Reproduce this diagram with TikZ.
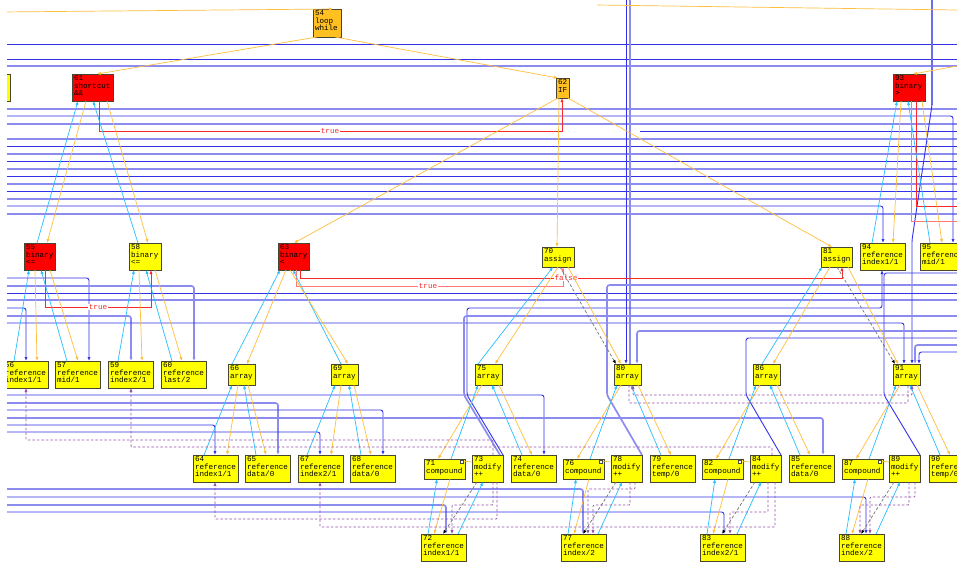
\documentclass[tikz,border=0pt]{standalone}
\usepackage{fontspec}
\newfontfamily\dotmono{Liberation Mono}
\usetikzlibrary{arrows.meta}
\definecolor{cyanE}{RGB}{40,190,255}
\definecolor{orngE}{RGB}{255,190,60}
\definecolor{blueD}{RGB}{50,50,235}
\definecolor{blueL}{RGB}{140,140,240}
\definecolor{redE}{RGB}{250,40,40}
\definecolor{redL}{RGB}{255,120,120}
\definecolor{purpE}{RGB}{150,80,170}
\definecolor{boxY}{RGB}{255,255,0}
\definecolor{boxR}{RGB}{255,0,0}
\definecolor{boxO}{RGB}{255,192,32}
\definecolor{bordC}{RGB}{70,70,50}
\tikzset{
 gbox/.style={draw=bordC, line width=0.8pt, inner sep=0pt, outer sep=0pt},
 lbl/.style={inner sep=0pt, align=left, font=\dotmono\fontsize{7.6}{7.5}\selectfont},
 tl/.style={inner sep=0.6pt, fill=white, text=redE, font=\dotmono\fontsize{7.6}{7.5}\selectfont},
 arrw/.style={-{Latex[length=4pt,width=3.2pt]}},
 eO/.style={draw=orngE, line width=0.7pt, arrw},
 eOn/.style={draw=orngE, line width=0.7pt},
 eC/.style={draw=cyanE, line width=0.7pt, arrw},
 eK/.style={draw=black!55, line width=0.7pt, dash pattern=on 3pt off 2pt, -{Latex[length=4pt,width=3.2pt,color=black]}},
 lnD/.style={draw=blueD, line width=0.9pt, rounded corners=2.5pt},
 lnL/.style={draw=blueL, line width=1.7pt, rounded corners=2.5pt},
 lnR/.style={draw=redE, line width=0.8pt},
 lnRL/.style={draw=redL, line width=0.8pt},
 lnP/.style={draw=purpE, line width=0.7pt, dash pattern=on 2.5pt off 2pt, rounded corners=1pt},
 sqr/.style={draw=black!70, line width=0.5pt, fill=white},
}
\newcommand\bx[7]{%
 \node[gbox,fill=#6,minimum width=#4pt,minimum height=#5pt,anchor=north west] (#1) at (#2,#3) {};
 \node[lbl,anchor=north west] (#1t) at ([xshift=1.8pt,yshift=-1.6pt]#1.north west) {#7};}
\newcommand\grp[5]{%
 \draw[eO] ([xshift=7]n#1.south west) -- ([xshift=14]n#2.north west);
 \draw[eC] ([xshift=27]n#2.north west) -- ([xshift=3]n#1.south west);
 \draw[eC] ([xshift=11]n#4.north west) -- ([xshift=17]n#1.south west);
 \draw[eO] ([xshift=24]n#1.south west) -- ([xshift=21]n#4.north west);
 \draw[eC] ([xshift=7]n#5.north west) -- ([xshift=13]n#2.south west);
 \draw[eO] ([xshift=26]n#2.south west) -- ([xshift=13]n#5.north west);
 \draw[eK] ([xshift=5]n#3.south west) -- ([xshift=22]n#5.north west);
 \draw[eC] ([xshift=37]n#5.north west) -- ([xshift=11]n#3.south west);
 \draw[eOn] ([xshift=-3,yshift=-2]n#2.north east) -- ([yshift=-7]n#3.north west);
 \draw[sqr] ([xshift=-5,yshift=-1]n#2.north east) rectangle ++(3.5,3.5);}
\begin{document}
\begin{tikzpicture}[x=1pt,y=-1pt]
\fill[white] (0,0) rectangle (957,568);
\useasboundingbox (0,0) rectangle (957,568);
% ---------- nodes ----------
\bx{nX}{0}{74}{10}{27}{boxY}{}
\bx{n54}{313}{9}{28}{28}{boxO}{54\\loop\\while}
\bx{n61}{72}{74}{41}{27}{boxR}{61\\shortcut\\\&\&}
\bx{n62}{556}{78}{13}{20}{boxO}{62\\IF}
\bx{n93}{893}{74}{32}{27}{boxR}{93\\binary\\>}
\bx{n55}{24}{243}{31}{27}{boxR}{55\\binary\\<=}
\bx{n58}{129}{243}{32}{27}{boxY}{58\\binary\\<=}
\bx{n63}{278}{243}{31}{27}{boxR}{63\\binary\\<}
\bx{n70}{542}{247}{32}{20}{boxY}{70\\assign}
\bx{n81}{821}{247}{31}{20}{boxY}{81\\assign}
\bx{n94}{860}{243}{45}{27}{boxY}{94\\reference\\index1/1}
\bx{n95}{920}{243}{45}{27}{boxY}{95\\reference\\mid/1}
\bx{n56}{3}{361}{45}{27}{boxY}{56\\reference\\index1/1}
\bx{n57}{55}{361}{45}{27}{boxY}{57\\reference\\mid/1}
\bx{n59}{108}{361}{45}{27}{boxY}{59\\reference\\index2/1}
\bx{n60}{161}{361}{45}{27}{boxY}{60\\reference\\last/2}
\bx{n66}{228}{364}{27}{21}{boxY}{66\\array}
\bx{n69}{331}{364}{27}{21}{boxY}{69\\array}
\bx{n75}{475}{364}{27}{21}{boxY}{75\\array}
\bx{n80}{614}{364}{27}{21}{boxY}{80\\array}
\bx{n86}{753}{364}{27}{21}{boxY}{86\\array}
\bx{n91}{893}{364}{27}{21}{boxY}{91\\array}
\bx{n64}{193}{455}{45}{27}{boxY}{64\\reference\\index1/1}
\bx{n65}{245}{455}{45}{27}{boxY}{65\\reference\\data/0}
\bx{n67}{298}{455}{45}{27}{boxY}{67\\reference\\index2/1}
\bx{n68}{350}{455}{45}{27}{boxY}{68\\reference\\data/0}
\bx{n71}{424}{459}{41}{20}{boxY}{71\\compound}
\bx{n73}{472}{455}{31}{27}{boxY}{73\\modify\\++}
\bx{n74}{511}{455}{45}{27}{boxY}{74\\reference\\data/0}
\bx{n76}{563}{459}{41}{20}{boxY}{76\\compound}
\bx{n78}{611}{455}{31}{27}{boxY}{78\\modify\\++}
\bx{n79}{650}{455}{45}{27}{boxY}{79\\reference\\temp/0}
\bx{n82}{702}{459}{41}{20}{boxY}{82\\compound}
\bx{n84}{750}{455}{31}{27}{boxY}{84\\modify\\++}
\bx{n85}{789}{455}{45}{27}{boxY}{85\\reference\\data/0}
\bx{n87}{842}{459}{41}{20}{boxY}{87\\compound}
\bx{n89}{889}{455}{31}{27}{boxY}{89\\modify\\++}
\bx{n90}{929}{455}{45}{27}{boxY}{90\\reference\\temp/0}
\bx{n72}{421}{534}{45}{27}{boxY}{72\\reference\\index1/1}
\bx{n77}{561}{534}{45}{27}{boxY}{77\\reference\\index/2}
\bx{n83}{700}{534}{45}{27}{boxY}{83\\reference\\index2/1}
\bx{n88}{839}{534}{45}{27}{boxY}{88\\reference\\index/2}
% ---------- blue full-width lines ----------
\foreach \yy/\st in {44/lnD,59/lnD,66/lnL,109/lnL,124/lnL,139/lnL,146/lnD,154/lnL,161/lnD,169/lnL,176/lnD,184/lnL,191/lnD,199/lnL,214/lnL,293/lnD,300/lnL}{
 \coordinate (lw\yy) at (0,\yy); \coordinate (le\yy) at (957,\yy);
 \draw[\st] (lw\yy) -- (le\yy);}
\foreach \yy in {116,206,278,286,308,316,323,395,403,410,418,425,432,489,497,505,512}{
 \coordinate (lw\yy) at (0,\yy);}
\foreach \yy in {273,285,316,331,338,345,352,206,221}{
 \coordinate (re\yy) at (957,\yy);}
\coordinate (rs131) at (640,131); \coordinate (re131) at (957,131);
\draw[lnD] (rs131) -- (re131);
% blue drops into nodes
\draw[lnD,arrw] (lw116) -| ([xshift=33]n95.north west);
\draw[lnD,arrw] (lw206) -| ([xshift=23]n94.north west);
\draw[lnD,arrw] (lw278) -| ([xshift=34]n57.north west);
\draw[lnL,arrw] (lw286) -| ([xshift=33]n60.north west);
\draw[lnD,arrw] (lw308) -| ([xshift=23]n56.north west);
\draw[lnL,arrw] (lw316) -| ([xshift=23]n59.north west);
\draw[lnD,arrw] (lw323) -| ([xshift=11]n91.north west);
\draw[lnD,arrw] (lw395) -| ([xshift=33]n74.north west);
\draw[lnL,arrw] (lw403) -| ([xshift=33]n65.north west);
\draw[lnD,arrw] (lw410) -| ([xshift=33]n68.north west);
\draw[lnL,arrw] (lw418) -| ([xshift=34]n85.north west);
\draw[lnD,arrw] (lw425) -| ([xshift=22]n64.north west);
\draw[lnD,arrw] (lw432) -| ([xshift=22]n67.north west);
\draw[lnL,arrw] (lw489) -| ([xshift=22]n77.north west);
\draw[lnD,arrw] (lw497) -| ([xshift=27]n88.north west);
\draw[lnL,arrw] (lw505) -| ([xshift=25]n72.north west);
\draw[lnD,arrw] (lw512) -| ([xshift=24]n83.north west);
% verticals from top
\coordinate (vt1) at (626,0); \coordinate (vt2) at (630,0); \coordinate (vt3) at (932,0);
\draw[lnL] (vt2) -- ([xshift=16]n80.north west);
\draw[lnD,arrw] (vt1) -- ([xshift=12]n80.north west);
\draw[lnL] (vt3) -- ++(0,105);
\draw[lnD,arrw] (vt3) -- ++(0,105) -- ++(-20,135) -- ([xshift=19]n91.north west);
% modify lines
\draw[lnD,arrw] (n73.north east) -- ++(-36,-60) -- ++(0,-87) -| ([xshift=22]n94.south west);
\draw[lnL] ([xshift=-3]n73.north east) -- ++(-36,-60) |- (re316);
\draw[lnL] (n78.north east) -- ++(-35,-60) |- (re285);
\draw[lnD] (n84.north east) -- ++(-35,-60) |- (re338);
\draw[lnD] (n89.north east) -- ++(-36,-60) |- (re273);
\draw[lnL,arrw] (re331) -| ([xshift=23]n80.north west);
\draw[lnL,arrw] (re345) -| ([xshift=22]n91.north west);
\draw[lnD,arrw] (re352) -| ([xshift=26]n91.north west);
% ---------- red control lines ----------
\draw[lnR,arrw] ([xshift=27]n61.south west) -- ++(0,30) -| ([xshift=6]n62.south west);
\node[tl] (lt1) at (330,131) {true};
\draw[lnR,arrw] ([xshift=21]n55.south west) -- ++(0,37) -| ([xshift=22]n58.south west);
\node[tl] (lt2) at (98,307) {true};
\draw[lnRL,arrw] ([xshift=18]n63.south west) -- ++(0,16) -| ([xshift=21]n70.south west);
\node[tl] (lt3) at (428,286) {true};
\draw[lnR,arrw] ([xshift=22]n63.south west) -- ++(0,8) -| ([xshift=21]n81.south west);
\node[tl] (lt4) at (566,278) {false};
\draw[lnRL] ([xshift=18]n93.south west) |- (re221);
\draw[lnR] ([xshift=23]n93.south west) |- (re206);
% ---------- tree edges ----------
\coordinate (tw) at (0,12); \coordinate (tm) at (597,5); \coordinate (te) at (957,10); \coordinate (tr) at (957,66);
\draw[eO] (tw) -- ([xshift=20]n54.north west);
\draw[eOn] (tm) -- (te);
\draw[eO] (tr) -- ([xshift=20]n93.north west);
\draw[eO] ([xshift=4]n54.south west) -- ([xshift=25]n61.north west);
\draw[eO] ([xshift=22]n54.south west) -- ([xshift=2]n62.north west);
\draw[eO] ([xshift=14]n61.south west) -- ([xshift=23]n55.north west);
\draw[eC] ([xshift=13]n55.north west) -- ([xshift=6]n61.south west);
\draw[eC] ([xshift=9]n58.north west) -- ([xshift=21]n61.south west);
\draw[eO] ([xshift=35]n61.south west) -- ([xshift=19]n58.north west);
\draw[eC] ([xshift=11]n56.north west) -- ([xshift=5]n55.south west);
\draw[eO] ([xshift=11]n55.south west) -- ([xshift=34]n56.north west);
\draw[eO] ([xshift=26]n55.south west) -- ([xshift=23]n57.north west);
\draw[eC] ([xshift=12]n57.north west) -- ([xshift=17]n55.south west);
\draw[eC] ([xshift=10]n59.north west) -- ([xshift=5]n58.south west);
\draw[eO] ([xshift=10]n58.south west) -- ([xshift=34]n59.north west);
\draw[eO] ([xshift=26]n58.south west) -- ([xshift=21]n60.north west);
\draw[eC] ([xshift=11]n60.north west) -- ([xshift=17]n58.south west);
\draw[eO] ([xshift=2]n62.south west) -- ([xshift=16]n63.north west);
\draw[eO] ([xshift=3]n62.south west) -- ([xshift=15]n70.north west);
\draw[eO] ([xshift=12]n62.south west) -- ([xshift=11]n81.north west);
\draw[eO] ([xshift=8]n63.south west) -- ([xshift=19]n66.north west);
\draw[eC] ([xshift=4]n66.north west) -- ([xshift=2]n63.south west);
\draw[eC] ([xshift=10]n69.north west) -- ([xshift=15]n63.south west);
\draw[eO] ([xshift=12]n63.south west) -- ([xshift=17]n69.north west);
\draw[eC] ([xshift=11]n64.north west) -- ([xshift=4]n66.south west);
\draw[eO] ([xshift=10]n66.south west) -- ([xshift=34]n64.north west);
\draw[eC] ([xshift=11]n65.north west) -- ([xshift=16]n66.south west);
\draw[eO] ([xshift=20]n66.south west) -- ([xshift=21]n65.north west);
\draw[eC] ([xshift=9]n67.north west) -- ([xshift=4]n69.south west);
\draw[eO] ([xshift=10]n69.south west) -- ([xshift=33]n67.north west);
\draw[eC] ([xshift=11]n68.north west) -- ([xshift=18]n69.south west);
\draw[eO] ([xshift=23]n69.south west) -- ([xshift=21]n68.north west);
\draw[eC] ([xshift=3]n75.north west) -- ([xshift=11]n70.south west);
\draw[eO] ([xshift=16]n70.south west) -- ([xshift=20]n75.north west);
\draw[eO] ([xshift=26]n70.south west) -- ([xshift=7]n80.north west);
\draw[eK] ([xshift=18]n70.south west) -- ([xshift=2]n80.north west);
\draw[eC] ([xshift=9]n86.north west) -- ([xshift=1]n81.south west);
\draw[eO] ([xshift=9]n81.south west) -- ([xshift=20]n86.north west);
\draw[eO] ([xshift=27]n81.south west) -- ([xshift=5]n91.north west);
\draw[eK] ([xshift=16]n81.south west) -- ([xshift=2]n91.north west);
\draw[eC] ([xshift=12]n94.north west) -- ([xshift=4]n93.south west);
\draw[eO] ([xshift=8]n93.south west) -- ([xshift=33]n94.north west);
\draw[eC] ([xshift=10]n95.north west) -- ([xshift=15]n93.south west);
\draw[eO] ([xshift=29]n93.south west) -- ([xshift=22]n95.north west);
\grp{75}{71}{73}{74}{72}
\grp{80}{76}{78}{79}{77}
\grp{86}{82}{84}{85}{83}
\grp{91}{87}{89}{90}{88}
% ---------- purple dashed ----------
\draw[lnP,arrw] ([xshift=21]n73.north west) -- ++(0,-15) -| ([xshift=23]n56.south west);
\draw[lnP,arrw] ([xshift=22]n84.north west) -- ++(0,-8) -| ([xshift=23]n59.south west);
\draw[lnP,arrw] ([xshift=25]n73.south west) -- ++(0,37) -| ([xshift=22]n64.south west);
\draw[lnP,arrw] ([xshift=25]n84.south west) -- ++(0,45) -| ([xshift=22]n67.south west);
\draw[lnP,arrw] ([xshift=21]n73.south west) -- ++(0,23) -| ([xshift=31]n72.north west);
\draw[lnP,arrw] ([xshift=19]n78.south west) -- ++(0,23) -| ([xshift=32]n77.north west);
\draw[lnP,arrw] ([xshift=24]n78.south west) -- ++(0,7) -| ([xshift=27]n77.north west);
\draw[lnP,arrw] ([xshift=18]n84.south west) -- ++(0,30) -| ([xshift=30]n83.north west);
\draw[lnP,arrw] ([xshift=26]n89.south west) -- ++(0,15) -| ([xshift=31]n88.north west);
\draw[lnP,arrw] ([xshift=20]n89.south west) -- ++(0,23) -| ([xshift=21]n88.north west);
\draw[lnP,{Latex[length=4pt,width=3.2pt]}-{Latex[length=4pt,width=3.2pt]}] ([xshift=19]n80.south west) -- ++(0,10) -| ([xshift=19]n91.south west);
\draw[lnP] ([xshift=15]n80.south west) -- ++(0,18) -| ([xshift=15]n91.south west);
% left margin mask
\fill[white] (0,0) rectangle (7,568);
\end{tikzpicture}
\end{document}
